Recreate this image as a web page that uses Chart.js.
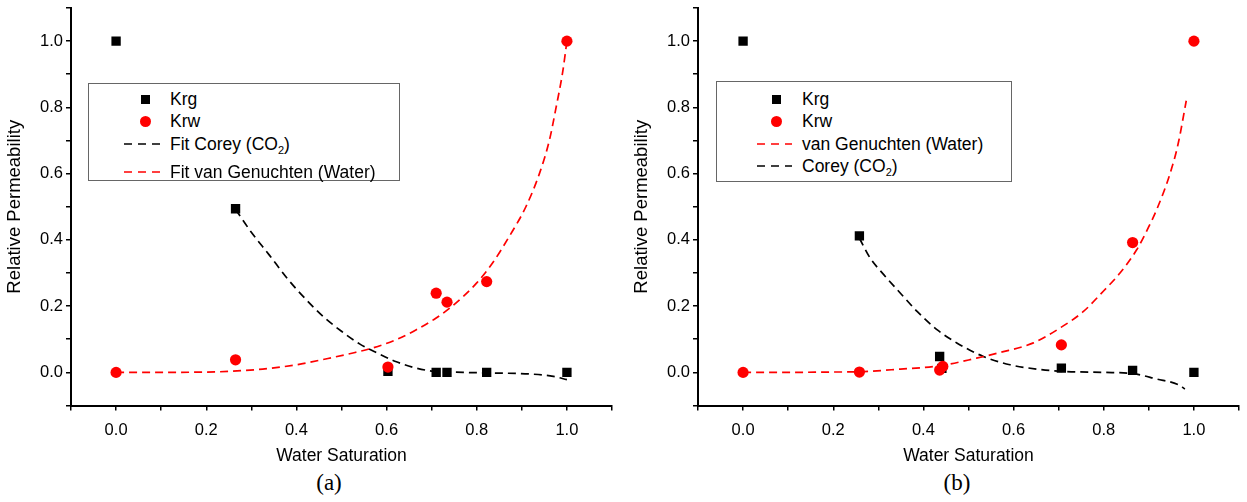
<!DOCTYPE html>
<html>
<head>
<meta charset="utf-8">
<script src="https://cdn.jsdelivr.net/npm/chart.js@4.4.0/dist/chart.umd.min.js"></script>
<style>
body{margin:0;background:#fff;}
#wrap{position:relative;width:1247px;height:502px;overflow:hidden;font-family:"Liberation Sans",Arial,sans-serif;color:#000;}
canvas{position:absolute;top:0;}
#cA{left:0;}
#cB{left:627px;}
.lg-box{position:absolute;box-sizing:border-box;border:1px solid #666;background:#fff;}
.lg-text{position:absolute;font-size:17.5px;line-height:20px;white-space:nowrap;}
.lg-text sub{font-size:11px;vertical-align:-4px;line-height:0;}
.lg-sq{position:absolute;width:9px;height:9px;background:#000;}
.lg-dot{position:absolute;width:11px;height:11px;border-radius:50%;background:#ff0000;}
.lg-line{position:absolute;}
.cap{position:absolute;width:80px;text-align:center;font-family:"Liberation Serif","Times New Roman",serif;font-size:23px;line-height:26px;}
</style>
</head>
<body>
<div id="wrap">
<canvas id="cA" width="623" height="470"></canvas>
<canvas id="cB" width="620" height="470"></canvas>
<div id="overlay"></div>
</div>

<script>

// axis ticks (labelled ones), minor ticks every 0.1
const majorTicks = [0, 0.2, 0.4, 0.6, 0.8, 1.0];

// ---- panel (a) ----
const aKrgSw = [0, 0.265, 0.603, 0.710, 0.734, 0.822, 1.0];
const aKrg   = [1.0, 0.494, 0.003, 0, 0, 0, 0];
const aKrwSw = [0, 0.265, 0.603, 0.710, 0.734, 0.822, 1.0];
const aKrw   = [0, 0.038, 0.016, 0.239, 0.212, 0.274, 1.0];

const aCoreySw = [0.265, 0.30, 0.34, 0.38, 0.42, 0.46, 0.50, 0.54, 0.58, 0.62, 0.66, 0.70, 0.77, 0.84, 0.92, 0.97, 1.0];
const aCorey   = [0.492, 0.423, 0.354, 0.283, 0.222, 0.168, 0.124, 0.086, 0.058, 0.033, 0.015, 0.004, 0.0, -0.002, -0.005, -0.012, -0.022];

const aVgSw = [0, 0.1, 0.2, 0.25, 0.325, 0.40, 0.47, 0.53, 0.57, 0.62, 0.665, 0.71, 0.74, 0.77, 0.80, 0.835, 0.872, 0.909, 0.939, 0.961, 0.976, 0.991, 1.0];
const aVg   = [0, 0, 0.001, 0.003, 0.010, 0.023, 0.042, 0.060, 0.074, 0.098, 0.128, 0.164, 0.194, 0.229, 0.27, 0.33, 0.41, 0.50, 0.60, 0.70, 0.80, 0.91, 1.0];

// ---- panel (b) ----
const bKrgSw = [0, 0.258, 0.436, 0.441, 0.706, 0.864, 1.0];
const bKrg   = [1.0, 0.412, 0.048, 0.012, 0.013, 0.006, 0];
const bKrwSw = [0, 0.258, 0.436, 0.443, 0.706, 0.864, 1.0];
const bKrw   = [0, 0.001, 0.007, 0.018, 0.083, 0.392, 1.0];

const bVgSw = [0, 0.1, 0.193, 0.26, 0.349, 0.437, 0.518, 0.57, 0.644, 0.703, 0.755, 0.799, 0.836, 0.873, 0.90, 0.917, 0.947, 0.965, 0.983];
const bVg   = [0, 0, 0.001, 0.002, 0.010, 0.020, 0.043, 0.060, 0.089, 0.134, 0.184, 0.245, 0.30, 0.37, 0.44, 0.49, 0.60, 0.69, 0.82];

const bCoreySw = [0.258, 0.282, 0.312, 0.349, 0.386, 0.43, 0.474, 0.533, 0.592, 0.651, 0.71, 0.80, 0.866, 0.917, 0.965, 0.98];
const bCorey   = [0.405, 0.345, 0.295, 0.239, 0.184, 0.129, 0.089, 0.048, 0.023, 0.010, 0.003, 0.0, -0.004, -0.02, -0.037, -0.05];

Chart.defaults.font.family = "'Liberation Sans', Arial, sans-serif";
Chart.defaults.color = "#000";

function pts(xs, ys){
return xs.map((x,i)=>({x:x, y:ys[i]}));
}

function tickLabel(v){
const hit = majorTicks.find(t => Math.abs(t - v) < 1e-6);
return hit === undefined ? "" : hit.toFixed(1);
}

function axis(pos, titleText, fitSize){
const left = pos==="left";
return {
type:"linear",
position:pos,
min:-0.1,
max:1.1,
afterFit:s=>{
if(left){ s.width = fitSize; s.paddingTop = 0; s.paddingBottom = 0; }
else { s.height = fitSize; s.paddingLeft = 0; s.paddingRight = 0; }
},
border:{display:true, color:"#000", width:2},
grid:{drawOnChartArea:false, drawTicks:true, tickLength:5, color:"#000", lineWidth:1.5},
ticks:{
stepSize:0.1,
autoSkip:false,
maxRotation:0,
padding: left ? 3 : 10,
font:{size:16.5},
callback:v=>tickLabel(v)
},
title:{
display:true,
text:titleText,
font:{size: left ? 18.5 : 17.5},
padding: left ? {top:4, bottom:0} : {top:0, bottom:3}
}
};
}

function drawPanel(id, krgSw, krg, krwSw, krw, lines, rightPad){

const sets = [
{label:"Krg", data:pts(krgSw,krg), pointStyle:"rect", pointRadius:6.6, backgroundColor:"#000", borderColor:"#000", borderWidth:0, order:2},
{label:"Krw", data:pts(krwSw,krw), pointStyle:"circle", pointRadius:5.6, backgroundColor:"#ff0000", borderColor:"#ff0000", borderWidth:0, order:1}
];

lines.forEach((l,i)=>{
sets.push({
label:l.label,
data:pts(l.sw,l.kr),
showLine:true,
pointRadius:0,
borderColor:l.color,
borderWidth:1.7,
borderDash:[8,5],
fill:false,
tension:0.4,
cubicInterpolationMode:"monotone",
order:3+i
});
});

new Chart(document.getElementById(id),{
type:"scatter",
data:{datasets:sets},
options:{
responsive:false,
animation:false,
layout:{padding:{top:8, right:rightPad, left:0, bottom:0}},
plugins:{legend:{display:false}, tooltip:{enabled:false}},
scales:{
x:axis("bottom","Water Saturation",64.5),
y:axis("left","Relative Permeability",71)
}
}
});

}

function dash(color, x1, x2, y){
const w = x2 - x1;
return `<svg class="lg-line" style="left:${x1}px;top:${y-2}px" width="${w}" height="4">
<line x1="0" y1="2" x2="${w}" y2="2" stroke="${color}" stroke-width="1.6" stroke-dasharray="8,6"/></svg>`;
}

function text(x, y, html){
return `<div class="lg-text" style="left:${x}px;top:${y-10}px">${html}</div>`;
}

function renderOverlay(){

const o = document.getElementById("overlay");

o.innerHTML = `

<div class="lg-box" style="left:88px;top:83px;width:312px;height:98px"></div>
<div class="lg-sq" style="left:140.5px;top:94.5px"></div>
${text(170, 99, "Krg")}
<div class="lg-dot" style="left:139.5px;top:115.5px"></div>
${text(170, 121, "Krw")}
${dash("#000", 124, 161, 144)}
${text(170, 144, "Fit Corey (CO<sub>2</sub>)")}
${dash("#ff0000", 124, 161, 172)}
${text(170, 172, "Fit van Genuchten (Water)")}

<div class="lg-box" style="left:716px;top:81px;width:296px;height:101px"></div>
<div class="lg-sq" style="left:772px;top:94.5px"></div>
${text(802, 99, "Krg")}
<div class="lg-dot" style="left:771px;top:115.5px"></div>
${text(802, 121, "Krw")}
${dash("#ff0000", 757, 792, 144)}
${text(802, 144, "van Genuchten (Water)")}
${dash("#000", 757, 792, 166)}
${text(802, 166, "Corey (CO<sub>2</sub>)")}

<div class="cap" style="left:289px;top:470px">(a)</div>
<div class="cap" style="left:917px;top:470px">(b)</div>
`;

}

drawPanel("cA", aKrgSw, aKrg, aKrwSw, aKrw, [
{label:"Fit Corey (CO2)", sw:aCoreySw, kr:aCorey, color:"#000"},
{label:"Fit van Genuchten (Water)", sw:aVgSw, kr:aVg, color:"#ff0000"}
], 11);

drawPanel("cB", bKrgSw, bKrg, bKrwSw, bKrw, [
{label:"van Genuchten (Water)", sw:bVgSw, kr:bVg, color:"#ff0000"},
{label:"Corey (CO2)", sw:bCoreySw, kr:bCorey, color:"#000"}
], 8);

renderOverlay();

</script>
</body>
</html>
